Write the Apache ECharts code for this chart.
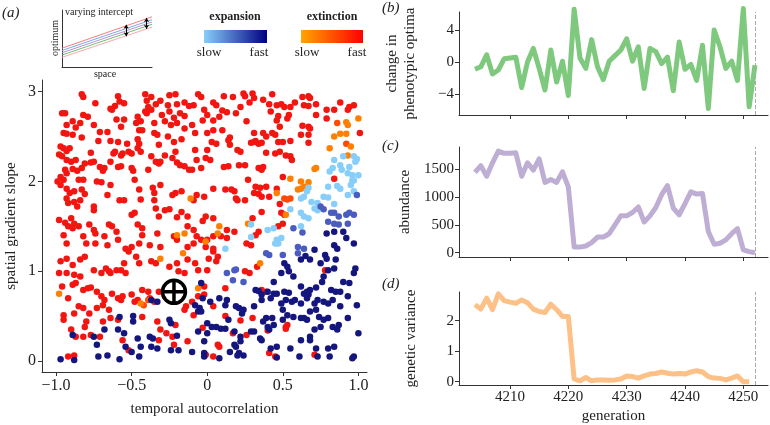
<!DOCTYPE html>
<html>
<head>
<meta charset="utf-8">
<script src="https://cdn.jsdelivr.net/npm/echarts@6/dist/echarts.min.js"></script>
<style>
  html, body { margin: 0; padding: 0; background: #fff; }
  #chart { width: 770px; height: 425px; }
</style>
</head>
<body>
<div id="chart"></div>
<script>
// ---- panel (a): scatter, grouped by outcome colour ----
const extFast = [
  [-0.83,2.97],[-0.82,2.94],[-0.74,2.87],[-0.59,2.95],[-0.58,2.89],[-0.61,2.84],[-0.64,2.81],[-0.55,2.87],[-0.41,2.97],[-0.37,2.94],[-0.40,2.90],[-0.39,2.83],[-0.37,2.80],[-0.41,2.78],[-0.25,2.96],[-0.21,2.97],[-0.26,2.85],[-0.20,2.86],[-0.15,2.88],[-0.06,2.97],[-0.04,2.94],[-0.09,2.85],[-0.02,2.80],[0.04,2.88],[0.06,2.85],
  [-0.96,2.76],[-0.94,2.76],[-0.82,2.74],[-0.79,2.72],[-0.63,2.80],[-0.60,2.69],[-0.55,2.69],[-0.46,2.72],[-0.44,2.67],[-0.40,2.76],[-0.34,2.86],[-0.31,2.90],[-0.30,2.74],[-0.25,2.78],[-0.22,2.71],[-0.18,2.76],[-0.15,2.73],[-0.12,2.84],[0.00,2.74],[0.04,2.68],[0.08,2.72],[-0.03,2.68],
  [-0.89,2.67],[-0.93,2.63],[-0.87,2.60],[-0.84,2.65],[-0.75,2.63],[-0.71,2.55],[-0.66,2.55],[-0.57,2.61],[-0.47,2.65],[-0.45,2.57],[-0.43,2.57],[-0.35,2.65],[-0.28,2.67],[-0.24,2.63],[-0.20,2.65],[-0.15,2.59],[-0.10,2.63],[-0.08,2.54],[0.00,2.54],[0.04,2.57],
  [-0.95,2.54],[-0.93,2.53],[-0.89,2.52],[-0.83,2.49],[-0.72,2.45],[-0.64,2.45],[-0.59,2.44],[-0.53,2.42],[-0.46,2.47],[-0.45,2.42],[-0.46,2.37],[-0.44,2.33],[-0.35,2.54],[-0.33,2.52],[-0.32,2.41],[-0.26,2.50],[-0.22,2.44],[-0.17,2.47],[-0.08,2.35],[0.00,2.35],[0.03,2.44],[0.06,2.42],
  [-0.97,2.39],[-0.95,2.37],[-0.93,2.34],[-0.91,2.37],[-0.98,2.30],[-0.96,2.28],[-0.93,2.24],[-0.90,2.22],[-0.87,2.24],[-0.77,2.32],[-0.81,2.20],[-0.77,2.21],[-0.75,2.22],[-0.64,2.22],[-0.62,2.31],[-0.61,2.33],[-0.57,2.29],[-0.56,2.31],[-0.52,2.33],[-0.50,2.31],[-0.37,2.28],[-0.34,2.22],[-0.31,2.22],[-0.28,2.29],[-0.23,2.26],[-0.21,2.33],[-0.20,2.21],[-0.15,2.17],[-0.12,2.13],[-0.04,2.15],[-0.07,2.24],[-0.01,2.26],[0.02,2.24],
  [-0.94,2.13],[-0.89,2.14],[-0.93,2.09],[-0.83,2.15],[-0.86,2.12],[-0.71,2.16],[-0.69,2.12],[-0.68,2.15],[-0.59,2.16],[-0.57,2.17],[-0.50,2.15],[-0.49,2.12],[-0.39,2.13],[-0.32,2.20],[-0.18,2.18],[-0.10,2.13],
  [-0.97,2.05],[-0.95,2.02],[-0.85,2.02],[-0.82,2.02],[-0.73,2.00],[-0.70,1.99],[-0.64,1.96],[-0.48,2.02],[-0.45,1.91],[-0.36,1.93],[-0.35,1.87],[-0.31,1.96],[-0.23,1.85],[-0.21,1.87],[-0.17,1.89],[-0.07,1.85],[-0.02,1.83],[0.04,1.92],
  [-0.99,2.00],[-0.97,1.96],[-0.93,1.92],[-0.91,1.87],[-0.88,1.89],[-0.93,1.81],[-0.92,1.76],[-0.88,1.77],[-0.86,1.72],[-0.83,1.91],[-0.81,1.86],[-0.84,1.79],[-0.75,1.72],[-0.75,1.68],[-0.66,1.85],[-0.58,1.79],[-0.55,1.79],[-0.50,1.63],[-0.48,1.65],[-0.44,1.80],[-0.35,1.79],[-0.34,1.70],[-0.32,1.61],[-0.28,1.68],[-0.25,1.69],[-0.20,1.60],[-0.17,1.66],[-0.13,1.61],[-0.09,1.79],[-0.03,1.56],[-0.01,1.61],[0.04,1.59],
  [-0.98,1.57],[-0.94,1.54],[-0.90,1.59],[-0.88,1.53],[-0.92,1.50],[-0.89,1.48],[-0.85,1.50],[-0.78,1.52],[-0.75,1.46],[-0.74,1.42],[-0.65,1.52],[-0.63,1.50],[-0.60,1.44],[-0.46,1.52],[-0.43,1.48],[-0.43,1.40],[-0.33,1.42],[-0.22,1.39],[-0.13,1.50],[-0.09,1.46],[-0.07,1.39],[0.04,1.39],
  [0.11,2.95],[0.17,2.94],[0.24,2.98],[0.25,2.95],[0.30,2.98],[0.31,2.93],[0.28,2.88],[0.37,2.91],[0.43,2.97],[0.41,2.86],[0.46,2.85],[0.49,2.86],[0.51,2.83],[0.55,2.83],[0.54,2.74],[0.58,2.88],[0.63,2.94],[0.67,2.95],[0.68,2.93],[0.64,2.85],[0.67,2.84],[0.72,2.86],[0.72,2.74],[0.79,2.80],[0.84,2.80],[0.88,2.88],[0.93,2.80],[0.94,2.83],[0.97,2.85],
  [0.10,2.79],[0.13,2.77],[0.19,2.76],[0.22,2.83],[0.26,2.67],[0.42,2.78],[0.47,2.73],[0.46,2.68],[0.53,2.70],[0.79,2.70],[1.01,2.54],
  [0.10,2.57],[0.15,2.49],[0.14,2.46],[0.31,2.54],[0.32,2.45],[0.37,2.54],[0.39,2.50],[0.43,2.54],[0.45,2.52],[0.48,2.61],[0.50,2.44],[0.47,2.44],[0.55,2.45],[0.62,2.52],[0.67,2.52],[0.67,2.61],[0.68,2.59],[0.63,2.62],[0.67,2.43],
  [0.15,2.41],[0.20,2.35],[0.22,2.33],[0.29,2.43],[0.31,2.44],[0.34,2.42],[0.36,2.43],[0.39,2.32],[0.45,2.31],[0.48,2.33],[0.52,2.29],[0.55,2.28],[0.56,2.24],
  [0.11,2.16],[0.14,2.17],[0.21,2.18],[0.25,2.18],[0.34,2.15],[0.36,2.13],[0.37,2.16],[0.50,2.05],[0.84,2.03],
  [0.16,1.91],[0.18,1.89],[0.27,2.02],[0.32,1.94],[0.35,1.93],[0.39,1.94],[0.46,1.92],
  [0.12,1.91],[0.19,1.81],[0.20,1.79],[0.25,1.79],[0.31,1.87],[0.34,1.86],[0.36,1.83],[0.41,1.83],[0.36,1.66],[0.48,1.75],[0.49,1.65],[0.51,1.63],
  [0.13,1.46],[0.18,1.44],[0.30,1.59],[0.47,1.50],[0.50,1.53],
  [-0.95,1.40],[-0.93,1.31],[-0.82,1.39],[-0.80,1.31],[-0.74,1.31],[-0.68,1.39],[-0.66,1.29],[-0.59,1.35],[-0.54,1.25],[-0.50,1.27],[-0.45,1.31],[-0.38,1.29],[-0.31,1.27],[-0.20,1.35],[-0.13,1.27],[-0.09,1.31],[-0.04,1.35],
  [-0.97,1.11],[-0.93,1.14],[-0.89,1.07],[-0.84,1.13],[-0.81,1.16],[-0.75,1.01],[-0.70,0.98],[-0.67,1.03],[-0.65,1.00],[-0.64,0.98],[-0.60,1.01],[-0.57,1.01],[-0.55,1.09],[-0.54,0.98],[-0.52,1.22],[-0.47,1.16],[-0.45,1.09],[-0.37,1.11],[-0.34,1.09],[-0.25,1.05],[-0.20,1.09],[-0.19,1.00],[-0.15,0.98],[-0.13,1.13],[-0.08,1.09],[-0.06,1.01],[-0.98,0.98],[-0.93,0.98],[-0.88,0.96],[-0.84,0.94],
  [-0.96,0.83],[-0.89,0.85],[-0.87,0.87],[-0.82,0.79],[-0.79,0.81],[-0.77,0.82],[-0.73,0.77],[-0.70,0.72],[-0.68,0.68],[-0.63,0.75],[-0.59,0.70],[-0.57,0.68],[-0.56,0.72],[-0.50,0.74],[-0.46,0.68],[-0.43,0.79],[-0.39,0.77],[-0.38,0.70],[-0.35,0.66],[-0.32,0.77],[-0.28,0.72],[-0.27,0.75],[-0.21,0.70],[-0.14,0.61],[-0.10,0.66],[-0.06,0.72],[-0.02,0.74],[-0.92,0.70],[-0.85,0.61],[-0.82,0.59],[-0.73,0.59],[-0.69,0.62],[-0.65,0.57],[-0.48,0.66],
  [-0.95,0.51],[-0.95,0.46],[-0.88,0.53],[-0.80,0.44],[-0.78,0.53],[-0.81,0.38],[-0.69,0.44],[-0.64,0.48],[-0.59,0.46],[-0.43,0.49],[-0.33,0.44],[-0.31,0.35],[-0.27,0.31],[-0.21,0.40],[-0.15,0.57],[-0.09,0.51],
  [-0.90,0.35],[-0.87,0.27],[-0.82,0.27],[-0.77,0.29],[-0.71,0.27],[-0.56,0.23],[-0.52,0.12],[-0.32,0.23],[-0.23,0.27],[-0.22,0.18],[-0.13,0.22],[-0.92,0.05],[-0.88,0.06],
  [0.00,1.35],[-0.01,1.27],[0.04,1.22],[0.04,1.25],[0.01,1.14],[0.07,1.16],[0.06,1.11],[0.00,1.01],[0.09,1.39],[0.13,1.37],[0.26,1.31],[0.29,1.29],[0.32,1.40],[0.34,1.44],[0.33,1.05],[0.25,1.00],[0.28,0.98],[-0.02,0.83],[0.12,0.81],[0.04,0.61],[0.12,0.50],[0.22,0.45],[0.30,0.48],[-0.03,0.37],[0.17,0.31],[0.26,0.29],[0.40,0.34],[0.52,0.38],[0.53,0.40],[0.52,0.36],[0.78,1.01],[0.36,0.79],[0.39,0.77],[0.07,0.18],[0.08,0.16],[-0.01,0.07],[0.04,0.05],[0.41,0.09],[0.45,0.05],[0.71,0.07]
];
const extMid = [
  [0.86,2.65],[0.92,2.42],[0.51,1.81],[0.53,1.80],[0.55,1.81],[-0.42,0.62],[-0.39,0.68]
];
const extSlow = [
  [-0.11,1.81],[0.08,1.50],[-0.20,1.40],[-0.15,1.42],[0.07,1.42],
  [1.00,2.70],[0.92,2.66],[0.93,2.63],[0.88,2.53],[0.92,2.53],[0.84,2.50],[0.95,2.39],[0.81,2.37],[0.93,2.29],[0.72,2.15],[0.71,2.14],[0.55,2.03],[0.62,2.00],[0.67,1.99],[0.60,1.91],[0.62,1.92],[0.64,1.94],[0.46,1.87],[0.52,1.63],[0.27,1.53],
  [-0.16,1.20],[-0.01,1.33],[-0.31,1.14],[-0.98,0.75],[-0.21,0.83],[-0.06,0.81],[-0.44,0.64],[0.35,1.09]
];
const expSlow = [
  [0.90,2.28],[0.97,2.28],[0.99,2.25],[0.98,2.22],[0.84,2.24],[0.88,2.18],[0.89,2.13],[0.94,2.16],[0.83,2.15],[0.81,2.11],[0.93,2.09],[0.96,2.07],[1.00,2.07],[0.80,1.94],[0.86,1.95],[0.88,1.92],[0.96,2.01],[0.97,2.01],[0.95,1.96],[0.97,1.89],[0.93,1.85],[0.67,1.93],[0.66,1.89],[0.64,1.83],[0.62,1.81],[0.69,1.77],[0.73,1.76],[0.77,1.83],[0.80,1.82],[0.84,1.75],[0.71,1.70],[0.73,1.68],[0.55,1.69],[0.62,1.65],[0.64,1.61],[0.67,1.59],[0.29,1.52],[0.40,1.46],[0.44,1.48],[0.49,1.37],[0.62,1.50],
  [0.12,1.25],[0.29,1.38],[0.46,1.35],[0.45,1.31],[0.47,1.31]
];
const expMid = [
  [0.99,1.85],[0.75,1.72],[0.77,1.69],[0.82,1.65],[0.84,1.65],[0.92,1.63],[0.94,1.65],[0.97,1.63],[0.87,1.61],[0.80,1.55],[0.84,1.53],[0.87,1.52],[0.93,1.53],[0.57,1.48],[0.63,1.43],
  [0.13,0.98],[0.18,1.01],[0.19,1.02],[0.39,1.20],[0.41,1.18],[0.50,1.18],[0.60,1.20],[0.60,1.27],[0.64,1.25],[0.24,0.88],[0.17,0.90]
];
const expFast = [
  [0.92,1.37],[0.79,1.42],[0.84,1.44],[0.90,1.44],
  [-0.37,0.68],[-0.33,0.66],[-0.04,0.87],[-0.03,0.70],[-0.08,0.62],[-0.05,0.59],[-0.06,0.55],[-0.04,0.55],[-0.02,0.09],
  [-0.58,0.49],[-0.49,0.50],[-0.49,0.44],[-0.68,0.35],[-0.75,0.27],[-0.59,0.35],[-0.55,0.31],[-0.46,0.25],[-0.38,0.27],[-0.36,0.25],[-0.25,0.46],[-0.24,0.42],[-0.20,0.28],[-0.06,0.33],[-0.89,0.29],[-0.73,0.18],
  [-0.97,0.02],[-0.88,0.01],[-0.72,0.05],[-0.66,0.06],[-0.58,0.02],[-0.54,0.16],[-0.44,0.16],[-0.37,0.16],[-0.33,0.14],[-0.24,0.12],[-0.19,0.12],[-0.10,0.10],[-0.02,0.05],[-0.50,0.10],[-0.45,0.05],
  [0.32,0.79],[0.34,0.78],[0.36,0.74],[0.40,0.77],[0.44,0.75],[0.46,0.75],[0.51,0.77],[0.54,0.76],[0.44,0.88],[0.49,0.98],[0.51,1.09],[0.53,1.05],[0.54,1.00],[0.57,0.94],[0.62,1.13],[0.65,1.17],[0.68,1.13],[0.71,1.24],[0.75,1.09],[0.78,1.18],[0.79,1.14],[0.84,1.29],[0.86,1.25],[0.85,1.13],[0.84,1.03],[0.80,1.01],[0.77,0.94],[0.76,0.88],[0.72,0.82],[0.68,0.79],[0.66,0.77],[0.64,0.75],[0.67,0.74],[0.62,0.83],[0.73,0.68],[0.82,0.79],[0.85,0.77],[0.88,0.77],[0.90,0.88],[0.94,0.87],[0.97,0.98],[0.98,1.03],[0.97,1.31],[0.93,0.72],[0.88,0.61],[0.83,0.68],[0.80,0.64],[0.77,0.66],[0.72,0.57],[0.68,0.55],[0.66,0.46],[0.64,0.48],[0.62,0.48],[0.57,0.49],[0.53,0.51],[0.50,0.46],[0.44,0.40],[0.43,0.48],[0.39,0.48],[0.37,0.44],[0.40,0.38],[0.41,0.35],[0.36,0.23],[0.35,0.25],[0.31,0.33],[0.29,0.33],[0.22,0.27],[0.18,0.18],[0.19,0.16],[0.15,0.10],[0.21,0.09],[0.20,0.06],[0.18,0.33],[0.14,0.46],[0.12,0.36],[0.09,0.36],[0.06,0.38],[0.00,0.42],[0.02,0.66],[0.08,0.70],[0.12,0.62],[0.13,0.68],[0.19,0.61],[0.21,0.59],[0.24,0.57],[0.23,0.53],[0.31,0.61],[0.36,0.68],[0.42,0.70],[0.49,0.64],[0.50,0.57],[0.52,0.68],[0.56,0.66],[0.58,0.68],[0.62,0.64],[0.66,0.70],[0.71,0.64],[0.74,0.49],[0.75,0.38],[0.77,0.46],[0.80,0.48],[0.83,0.38],[0.86,0.35],[0.87,0.40],[0.93,0.48],[0.99,0.62],[1.00,0.31],[0.97,0.05],[0.96,0.03],[0.84,0.16],[0.80,0.14],[0.72,0.14],[0.68,0.23],[0.68,0.27],[0.71,0.35],[0.62,0.23],[0.55,0.14],[0.46,0.16],[0.46,0.04],[0.42,0.14],[0.22,0.22],[0.03,0.38],[-0.02,0.22],[0.00,0.31],[0.73,0.05],[0.61,0.05],
  [0.24,0.06],[0.81,0.05],[0.08,0.03]
];
const crossPoint = [[-0.22, 0.77]];

// ---- panels (b)-(d): time series ----
const generation = [4204,4205,4206,4207,4208,4209,4210,4211,4212,4213,4214,4215,4216,4217,4218,4219,4220,4221,4222,4223,4224,4225,4226,4227,4228,4229,4230,4231,4232,4233,4234,4235,4236,4237,4238,4239,4240,4241,4242,4243,4244,4245,4246,4247,4248,4249,4250,4251,4252];
const optimaChange = [-0.9,-0.6,0.9,-1.5,-1.0,0.4,0.5,0.6,-3.2,0,1.7,-0.8,-3.5,1.5,-2.5,0.1,-4.2,6.6,0.5,-0.8,2.8,-0.6,-2.2,0.1,0.8,1.5,2.9,0.1,1.9,-3.3,1.7,1.3,-0.2,0.6,-3.6,2.5,-0.9,-0.3,-2.3,2.1,-5.8,4.0,1.9,-0.8,0.1,-2.3,6.7,-5.6,-0.4];
const abundance = [1440,1560,1370,1610,1820,1780,1780,1790,1370,1610,1480,1680,1260,1310,1260,1450,1180,100,100,120,180,280,280,340,500,660,660,720,820,550,660,810,1040,1200,800,680,880,1090,1050,1060,380,150,170,230,340,430,50,20,0];
const geneticVariance = [2.52,2.38,2.74,2.36,2.88,2.66,2.61,2.57,2.68,2.59,2.38,2.30,2.27,2.54,2.36,2.14,2.14,0.09,0.03,0.14,0.03,0.06,0.06,0.05,0.06,0.09,0.19,0.17,0.12,0.19,0.25,0.27,0.32,0.28,0.25,0.27,0.25,0.32,0.36,0.32,0.17,0.12,0.11,0.06,0.12,0.19,0.0,0.0];
const extinctionGeneration = 4252;
const genTicks = [4210, 4220, 4230, 4240, 4250];

// ---- inset sketch ----
const insetX = [0, 1.15];
const insetRed = [0.33, 0.88];
const insetBlue = [0.29, 0.83];
const insetPurple = [0.25, 0.79];
const insetGreen = [0.21, 0.75];
const insetPink = [0.17, 0.70];

const serif = "Liberation Serif";
const ink = "#222";

const chart = echarts.init(document.getElementById("chart"));

const minus = (v) => String(v).replace("-", "\u2212");

function valueAxis(gridIndex, min, max, ticks, opts) {
  return Object.assign({
    type: "value",
    gridIndex: gridIndex,
    min: min,
    max: max,
    splitLine: { show: false },
    axisLine: { show: true, onZero: false, lineStyle: { color: "#333", width: 1 } },
    axisTick: { show: true, length: 4, customValues: ticks, lineStyle: { color: "#333" } },
    axisLabel: { show: true, customValues: ticks, color: ink, fontFamily: serif, fontSize: 15, margin: 5, formatter: minus },
    nameTextStyle: { color: ink, fontFamily: serif, fontSize: 15 }
  }, opts || {});
}

function pairs(ys) {
  return ys.map((y, i) => [generation[i], y]);
}

function dashedEnd() {
  return {
    silent: true,
    symbol: "none",
    label: { show: false },
    lineStyle: { type: "dashed", color: "#aaa", width: 1 },
    data: [{ xAxis: extinctionGeneration }]
  };
}

function dots(name, data, color) {
  return {
    name: name, type: "scatter", xAxisIndex: 0, yAxisIndex: 0,
    data: data, symbolSize: 6.5,
    itemStyle: { color: color, opacity: 1 }
  };
}

function insetLine(ys, color) {
  return {
    type: "line", xAxisIndex: 4, yAxisIndex: 4,
    data: ys.map((y, i) => [insetX[i], y]),
    symbol: "none", clip: false,
    lineStyle: { color: color, width: 1 }
  };
}

const insetAxis = (gridIndex, max) => ({
  type: "value", gridIndex: gridIndex, min: 0, max: max,
  axisLine: { show: true, onZero: false, lineStyle: { color: "#333", width: 1 } },
  axisTick: { show: false }, axisLabel: { show: false }, splitLine: { show: false }
});

chart.setOption({
  animation: false,
  grid: [
    { left: 42, top: 80, width: 325, height: 292 },
    { left: 459, top: 12, width: 309, height: 103 },
    { left: 459, top: 147, width: 309, height: 110 },
    { left: 459, top: 292, width: 309, height: 94 },
    { left: 62, top: 10, width: 90, height: 57 }
  ],
  xAxis: [
    valueAxis(0, -1.093, 1.057, [-1, -0.5, 0, 0.5, 1], {
      name: "temporal autocorrelation", nameLocation: "middle", nameGap: 30,
      axisLabel: { customValues: [-1, -0.5, 0, 0.5, 1], color: ink, fontFamily: serif, fontSize: 16, margin: 6,
        formatter: (v) => minus(v === 0 ? "0" : v.toFixed(1)) }
    }),
    valueAxis(1, 4201.26, 4254.23, genTicks, { axisLabel: { show: false } }),
    valueAxis(2, 4201.26, 4254.23, genTicks, { axisLabel: { show: false } }),
    valueAxis(3, 4201.26, 4254.23, genTicks, { name: "generation", nameLocation: "middle", nameGap: 24 }),
    insetAxis(4, 1.15)
  ],
  yAxis: [
    valueAxis(0, -0.1225, 3.13, [0, 1, 2, 3], {
      name: "spatial gradient slope", nameLocation: "middle", nameGap: 23,
      axisLabel: { customValues: [0, 1, 2, 3], color: ink, fontFamily: serif, fontSize: 16, margin: 6 }
    }),
    valueAxis(1, -6.625, 6.25, [-4, 0, 4], {
      name: "change in\nphenotypic optima", nameLocation: "middle", nameGap: 40,
      nameTextStyle: { color: ink, fontFamily: serif, fontSize: 15, lineHeight: 18 }
    }),
    valueAxis(2, -77, 1894, [0, 500, 1000, 1500], { name: "abundance", nameLocation: "middle", nameGap: 46 }),
    valueAxis(3, -0.107, 2.94, [0, 1, 2], { name: "genetic variance", nameLocation: "middle", nameGap: 40 }),
    insetAxis(4, 1)
  ],
  series: [
    dots("extinction fast", extFast, "#f21510"),
    dots("extinction mid", extMid, "#ff4a06"),
    dots("extinction slow", extSlow, "#ff8000"),
    dots("expansion slow", expSlow, "#87cefa"),
    dots("expansion mid", expMid, "#4a5cbf"),
    dots("expansion fast", expFast, "#15157e"),
    {
      type: "scatter", xAxisIndex: 0, yAxisIndex: 0, data: crossPoint, z: 5,
      symbol: "circle", symbolSize: 23,
      itemStyle: { color: "#fff", borderColor: "#000", borderWidth: 3.5, opacity: 1 }
    },
    {
      type: "scatter", xAxisIndex: 0, yAxisIndex: 0, data: crossPoint, z: 6,
      symbol: "path://M-10,0L10,0M0,-10L0,10", symbolSize: 24,
      itemStyle: { color: "none", borderColor: "#000", borderWidth: 3.5, opacity: 1 }
    },
    {
      type: "line", xAxisIndex: 1, yAxisIndex: 1, data: pairs(optimaChange), symbol: "none", clip: false,
      lineStyle: { color: "#7fc97f", width: 5, join: "round" }, markLine: dashedEnd()
    },
    {
      type: "line", xAxisIndex: 2, yAxisIndex: 2, data: pairs(abundance), symbol: "none",
      lineStyle: { color: "#beaed4", width: 5, join: "round" }, markLine: dashedEnd()
    },
    {
      type: "line", xAxisIndex: 3, yAxisIndex: 3, data: pairs(geneticVariance), symbol: "none",
      lineStyle: { color: "#fdc086", width: 5, join: "round" }, markLine: dashedEnd()
    },
    Object.assign(insetLine(insetRed, "#f77b7b"), {
      markLine: {
        silent: true, symbol: ["arrow", "arrow"], symbolSize: 4, label: { show: false },
        lineStyle: { color: "#000", width: 1, type: "solid" },
        data: [
          [{ coord: [0.82, 0.74] }, { coord: [0.82, 0.54] }],
          [{ coord: [1.08, 0.86] }, { coord: [1.08, 0.67] }]
        ]
      }
    }),
    insetLine(insetBlue, "#7aa7e8"),
    insetLine(insetPurple, "#b98fd6"),
    insetLine(insetGreen, "#70c070"),
    insetLine(insetPink, "#f7a8b0")
  ],
  graphic: [
    { type: "text", left: 2, top: 6, style: { text: "(a)", font: "italic 15px " + serif, fill: ink } },
    { type: "text", left: 382, top: 1, style: { text: "(b)", font: "italic 15px " + serif, fill: ink } },
    { type: "text", left: 382, top: 139, style: { text: "(c)", font: "italic 15px " + serif, fill: ink } },
    { type: "text", left: 382, top: 277, style: { text: "(d)", font: "italic 15px " + serif, fill: ink } },
    { type: "text", left: 65, top: 7, style: { text: "varying intercept", font: "10px " + serif, fill: ink } },
    { type: "text", x: 55, y: 38, rotation: Math.PI / 2,
      style: { text: "optimum", font: "10px " + serif, fill: ink, align: "center", verticalAlign: "middle" } },
    { type: "text", x: 105, y: 74, style: { text: "space", font: "10px " + serif, fill: ink, align: "center", verticalAlign: "middle" } },
    { type: "text", x: 235, y: 17, style: { text: "expansion", font: "bold 12px " + serif, fill: ink, align: "center", verticalAlign: "middle" } },
    { type: "rect", shape: { x: 204, y: 30, width: 63, height: 13 },
      style: { fill: new echarts.graphic.LinearGradient(0, 0, 1, 0, [{ offset: 0, color: "#87cefa" }, { offset: 1, color: "#000080" }]) } },
    { type: "text", x: 209, y: 53, style: { text: "slow", font: "13px " + serif, fill: ink, align: "center", verticalAlign: "middle" } },
    { type: "text", x: 259, y: 53, style: { text: "fast", font: "13px " + serif, fill: ink, align: "center", verticalAlign: "middle" } },
    { type: "text", x: 332, y: 17, style: { text: "extinction", font: "bold 12px " + serif, fill: ink, align: "center", verticalAlign: "middle" } },
    { type: "rect", shape: { x: 301, y: 30, width: 62, height: 13 },
      style: { fill: new echarts.graphic.LinearGradient(0, 0, 1, 0, [{ offset: 0, color: "#ffa500" }, { offset: 1, color: "#ff0000" }]) } },
    { type: "text", x: 307, y: 53, style: { text: "slow", font: "13px " + serif, fill: ink, align: "center", verticalAlign: "middle" } },
    { type: "text", x: 357, y: 53, style: { text: "fast", font: "13px " + serif, fill: ink, align: "center", verticalAlign: "middle" } }
  ]
});
</script>
</body>
</html>
